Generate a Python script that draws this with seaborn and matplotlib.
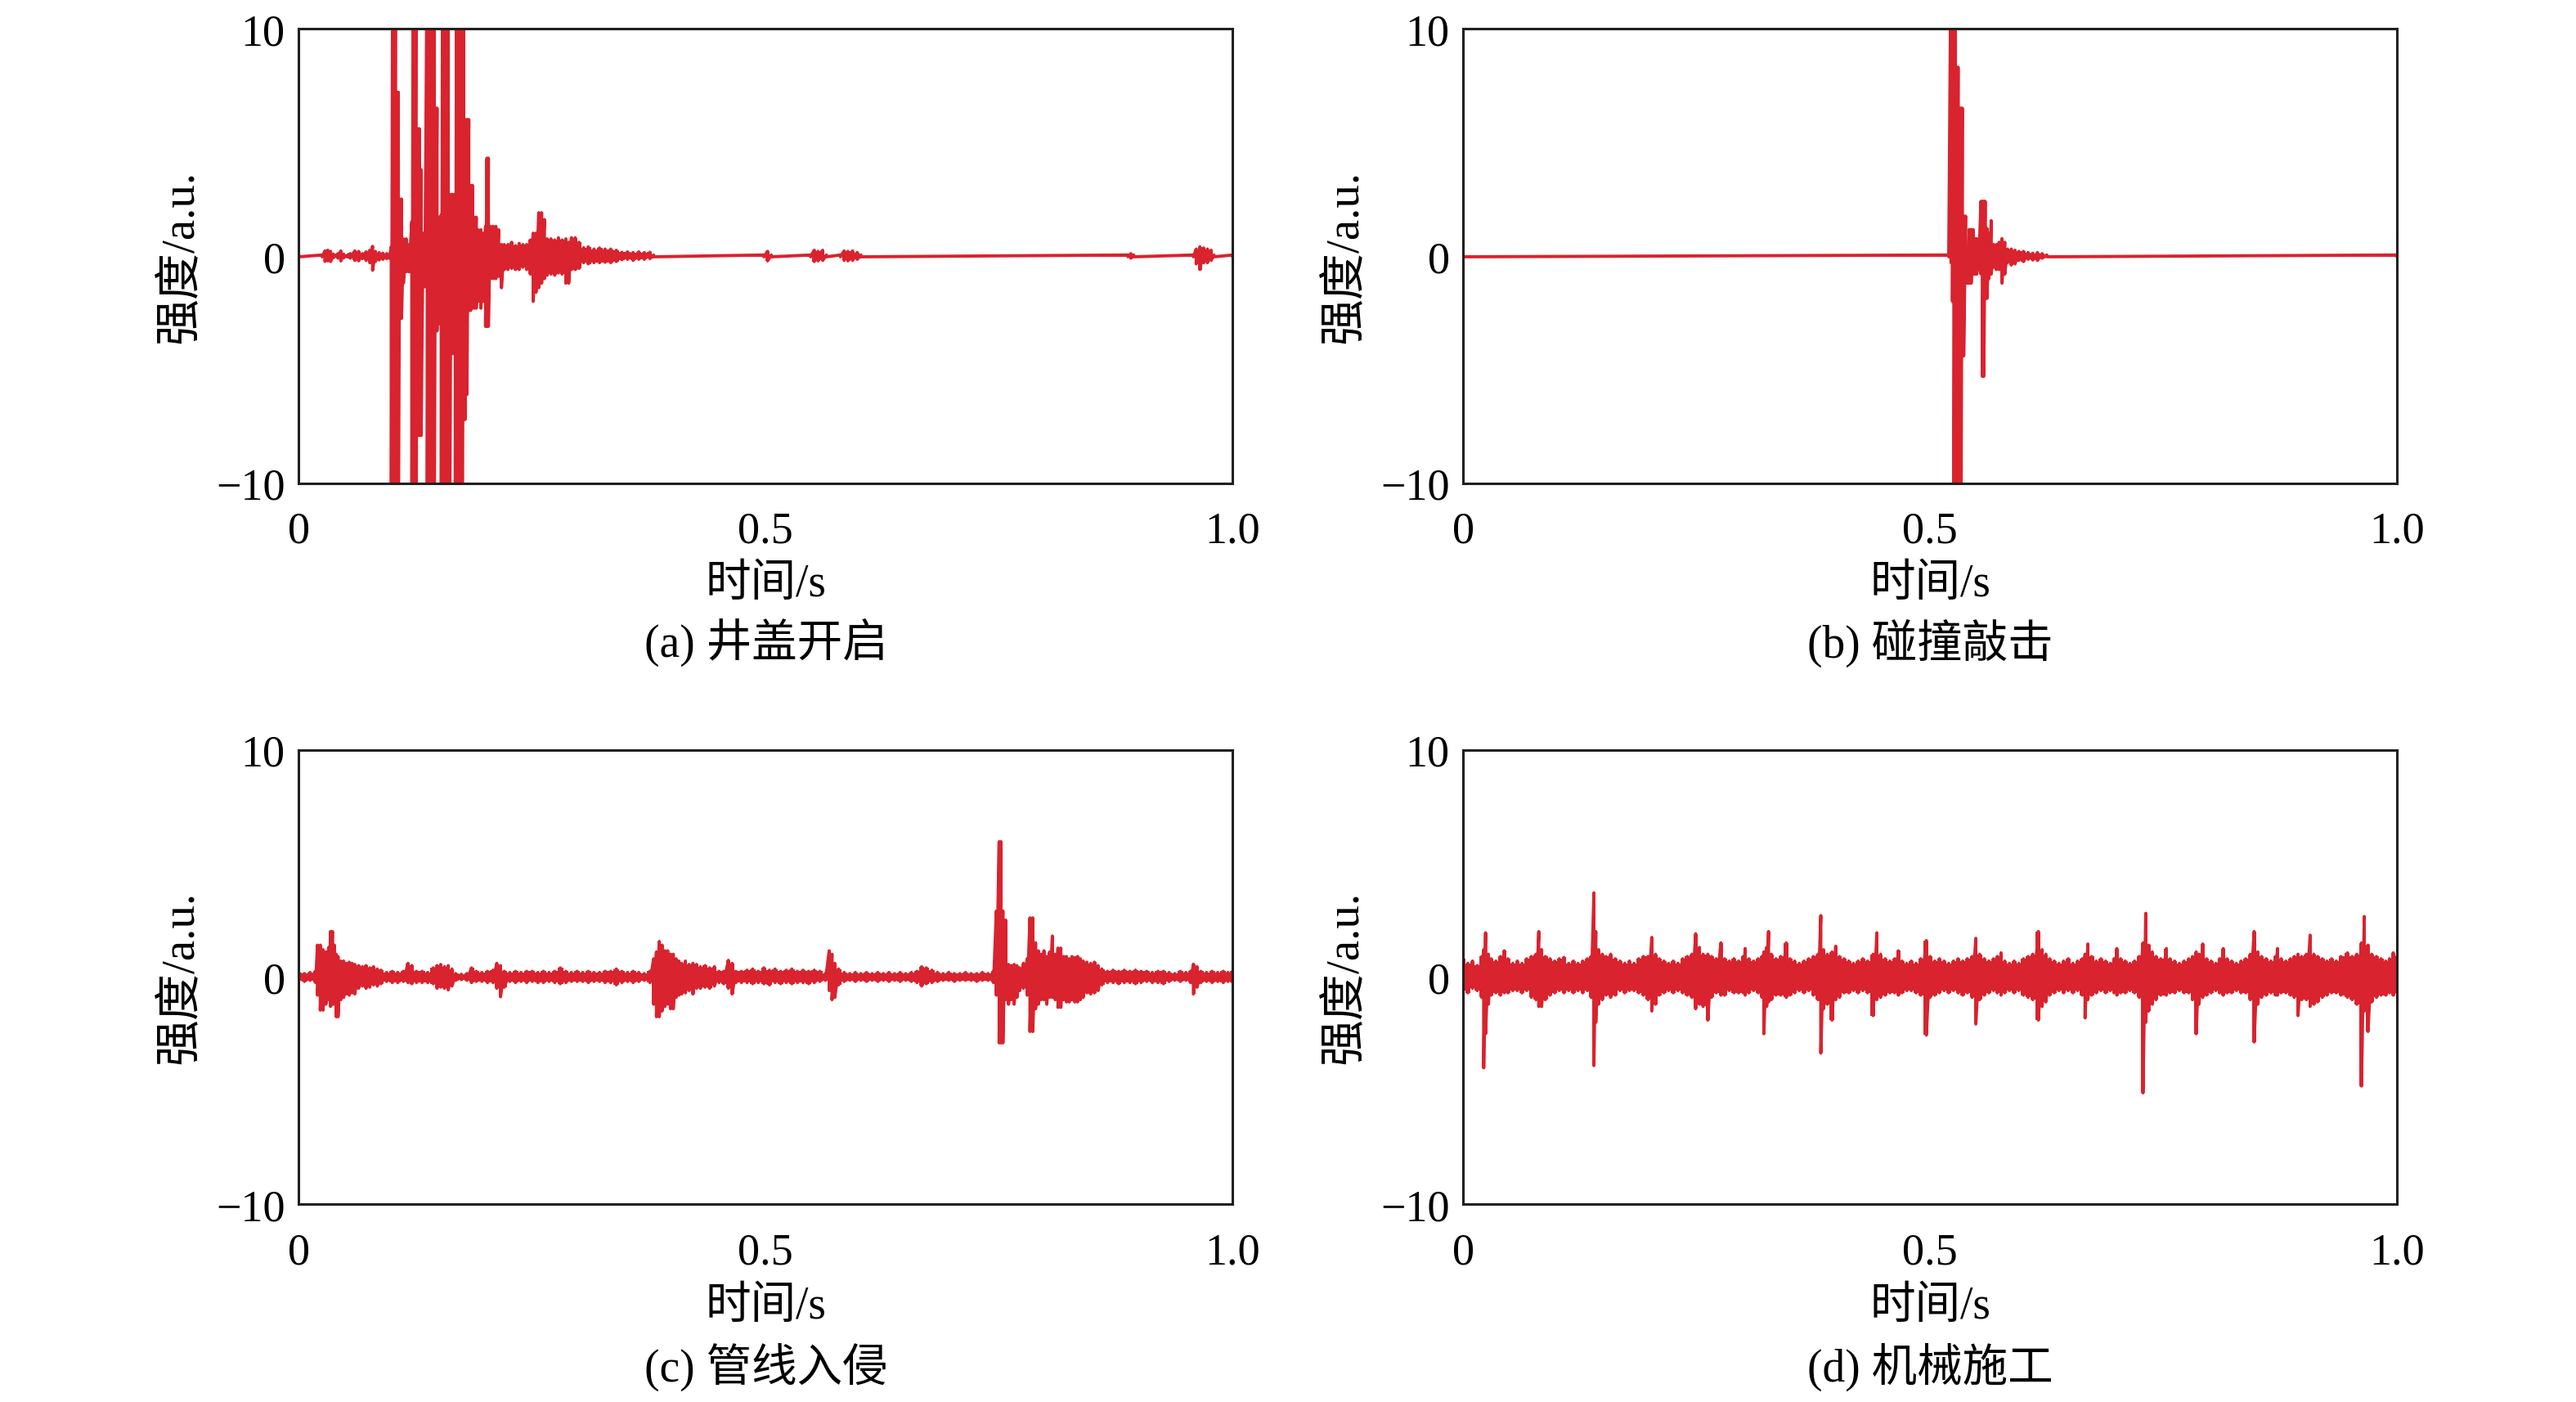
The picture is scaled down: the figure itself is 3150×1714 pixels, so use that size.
import numpy as np
import pandas as pd
import matplotlib
matplotlib.use("Agg")
import matplotlib.pyplot as plt
import seaborn as sns

# ---------------- data: envelope columns (time, upper, lower) ----------------
# (a) 井盖开启
t_a = [0.000, 0.025, 0.028, 0.031, 0.034, 0.037, 0.042, 0.045, 0.048, 0.055, 0.060, 0.064, 0.068, 0.072, 0.076, 0.079, 0.082, 0.086, 0.090, 0.094, 0.097,
       0.099, 0.1005, 0.102, 0.1035, 0.105, 0.1065, 0.108, 0.110, 0.112, 0.115, 0.118,
       0.121, 0.1225, 0.124, 0.1255, 0.127, 0.129, 0.131, 0.133, 0.135,
       0.1375, 0.139, 0.1405, 0.142, 0.1435, 0.145, 0.1465, 0.148, 0.1495, 0.151,
       0.1525, 0.154, 0.1555, 0.157, 0.1585, 0.160, 0.1615, 0.163, 0.1645, 0.166,
       0.1675, 0.169, 0.1705, 0.172, 0.1735, 0.175, 0.1765, 0.178, 0.180, 0.182,
       0.184, 0.186, 0.188, 0.190, 0.192, 0.195, 0.198, 0.200, 0.2015, 0.203, 0.205, 0.208, 0.211, 0.214, 0.217, 0.220,
       0.224, 0.228, 0.232, 0.236, 0.240, 0.244, 0.248, 0.251, 0.254, 0.257, 0.260, 0.263,
       0.266, 0.270, 0.274, 0.278, 0.282, 0.286, 0.289, 0.292, 0.296, 0.300,
       0.305, 0.310, 0.316, 0.322, 0.328, 0.334, 0.340, 0.346, 0.352, 0.358, 0.364, 0.370, 0.376, 0.380,
       0.498, 0.502, 0.506, 0.548, 0.552, 0.556, 0.561, 0.565, 0.580, 0.584, 0.588, 0.593, 0.598, 0.602,
       0.888, 0.891, 0.894, 0.958, 0.961, 0.965, 0.969, 0.973, 0.977, 0.980, 1.000]
hi_a = [0.04, 0.04, 0.22, 0.25, 0.20, 0.08, 0.10, 0.22, 0.08, 0.10, 0.22, 0.20, 0.10, 0.18, 0.25, 0.42, 0.20, 0.15, 0.12, 0.10, 0.08,
        0.4, 14, 14, 14, 7.2, 7.2, 2.5, 2.5, 0.75, 0.75, 0.5,
        1.5, 14, 14, 14, 5.6, 5.6, 3.8, 1.0, 1.0,
        14, 14, 14, 14, 14, 14, 6.5, 6.5, 1.7, 1.7,
        1.8, 14, 14, 14, 14, 14, 2.7, 2.7, 2.7, 2.7,
        2.7, 14, 14, 14, 14, 14, 14, 6.0, 6.0, 6.0,
        3.1, 3.1, 1.7, 1.7, 1.15, 1.15, 1.0, 1.3, 4.3, 4.3, 1.3, 1.3, 1.3, 1.15, 0.5, 0.5,
        0.5, 0.6, 0.45, 0.55, 0.5, 0.5, 0.7, 1.0, 1.0, 1.9, 1.9, 1.6,
        0.75, 0.75, 0.7, 0.8, 0.7, 0.75, 0.6, 0.8, 0.8, 0.6,
        0.36, 0.4, 0.3, 0.35, 0.3, 0.3, 0.25, 0.16, 0.18, 0.15, 0.18, 0.15, 0.16, 0.04,
        0.04, 0.2, 0.04, 0.04, 0.25, 0.2, 0.25, 0.04, 0.04, 0.22, 0.2, 0.22, 0.15, 0.04,
        0.04, 0.1, 0.04, 0.04, 0.3, 0.4, 0.35, 0.3, 0.25, 0.04, 0.04]
lo_a = [-0.04, -0.04, -0.24, -0.22, -0.25, -0.08, -0.10, -0.22, -0.08, -0.10, -0.20, -0.22, -0.12, -0.20, -0.30, -0.63, -0.25, -0.18, -0.15, -0.12, -0.10,
        -14, -14, -14, -14, -14, -14, -2.75, -2.75, -1.2, -0.7, -0.7,
        -14, -14, -14, -14, -7.9, -7.9, -7.9, -1.36, -1.36,
        -14, -14, -14, -14, -14, -14, -3.0, -3.3, -3.0, -2.8,
        -14, -14, -14, -14, -14, -14, -14, -4.3, -4.3, -4.3,
        -14, -14, -14, -14, -14, -14, -7.2, -7.2, -6.1, -2.4,
        -2.4, -2.3, -2.3, -2.3, -2.0, -2.3, -2.0, -3.1, -3.1, -3.1, -1.0, -1.0, -1.0, -0.9, -1.4, -0.6,
        -0.6, -0.55, -0.6, -0.6, -0.5, -0.6, -0.8, -2.0, -1.6, -1.4, -1.2, -1.0,
        -0.85, -0.8, -0.85, -0.75, -0.8, -1.2, -1.2, -0.6, -0.6, -0.55,
        -0.3, -0.35, -0.3, -0.3, -0.28, -0.3, -0.25, -0.17, -0.15, -0.2, -0.15, -0.15, -0.12, -0.04,
        -0.04, -0.22, -0.04, -0.04, -0.25, -0.22, -0.2, -0.04, -0.04, -0.2, -0.22, -0.2, -0.15, -0.04,
        -0.04, -0.1, -0.04, -0.04, -0.35, -0.6, -0.3, -0.3, -0.2, -0.04, -0.04]

# (b) 碰撞敲击
t_b = [0.000, 0.520,
       0.5225, 0.524, 0.5255, 0.527, 0.5285, 0.530, 0.5315, 0.533, 0.5345,
       0.536, 0.538, 0.540, 0.542, 0.544, 0.546, 0.548, 0.550, 0.552,
       0.5545, 0.556, 0.5575, 0.559, 0.561, 0.563, 0.5655,
       0.568, 0.571, 0.574, 0.577, 0.580, 0.583, 0.587, 0.591, 0.595,
       0.600, 0.605, 0.610, 0.615, 0.620, 0.625, 1.000]
hi_b = [0.04, 0.04,
        14, 14, 14, 14, 8.3, 8.3, 6.5, 6.5, 6.5,
        1.75, 1.75, 0.37, 1.16, 1.16, 1.16, 0.76, 0.76, 0.5,
        2.4, 2.4, 2.4, 2.4, 1.2, 1.0, 1.55,
        0.5, 0.5, 0.6, 0.76, 0.6, 0.3, 0.3, 0.25, 0.2,
        0.2, 0.15, 0.12, 0.15, 0.1, 0.04, 0.04]
lo_b = [-0.04, -0.04,
        -0.3, -2, -14, -14, -14, -14, -14, -14, -4.4,
        -4.4, -1.2, -1.2, -1.2, -1.2, -0.8, -0.8, -0.8, -0.6,
        -0.8, -5.3, -5.3, -1.87, -1.87, -1.0, -0.8,
        -0.5, -0.6, -0.6, -1.2, -0.8, -0.3, -0.4, -0.35, -0.2,
        -0.25, -0.15, -0.18, -0.2, -0.1, -0.04, -0.04]

# (c) 管线入侵
t_c = [0.000, 0.006, 0.012, 0.018, 0.020, 0.023, 0.026, 0.029, 0.032, 0.034,
       0.036, 0.038, 0.040, 0.042, 0.045, 0.048, 0.051, 0.054, 0.057, 0.060,
       0.064, 0.068, 0.072, 0.076, 0.080, 0.084, 0.088, 0.094, 0.100, 0.106,
       0.112, 0.117, 0.121, 0.126, 0.132, 0.138, 0.144, 0.148, 0.152, 0.156,
       0.160, 0.164, 0.168, 0.174, 0.180, 0.185, 0.190, 0.196, 0.202, 0.208,
       0.212, 0.216, 0.220, 0.226, 0.232, 0.238, 0.244, 0.250, 0.256, 0.262,
       0.268, 0.274, 0.280, 0.286, 0.292, 0.298, 0.304, 0.310, 0.316, 0.322,
       0.328, 0.334, 0.340, 0.346, 0.352, 0.358, 0.364, 0.370, 0.376, 0.380,
       0.383, 0.386, 0.389, 0.392, 0.395, 0.398, 0.401, 0.404, 0.407, 0.410,
       0.414, 0.418, 0.422, 0.426, 0.430, 0.435, 0.440, 0.445, 0.450, 0.455,
       0.460, 0.464, 0.468, 0.474, 0.480, 0.486, 0.492, 0.498, 0.504, 0.510,
       0.516, 0.522, 0.528, 0.534, 0.540, 0.546, 0.552, 0.558, 0.564, 0.568,
       0.571, 0.574, 0.578, 0.584, 0.590, 0.596, 0.602, 0.608, 0.614, 0.620,
       0.626, 0.632, 0.638, 0.644, 0.650, 0.656, 0.662, 0.667, 0.672, 0.678,
       0.684, 0.690, 0.696, 0.702, 0.708, 0.714, 0.720, 0.726, 0.732, 0.738,
       0.744, 0.747, 0.750, 0.752, 0.754, 0.757, 0.760, 0.763, 0.766, 0.769,
       0.772, 0.776, 0.780, 0.783, 0.786, 0.789, 0.792, 0.795, 0.798, 0.801,
       0.804, 0.807, 0.810, 0.813, 0.816, 0.819, 0.822, 0.825, 0.828, 0.831,
       0.834, 0.837, 0.840, 0.844, 0.848, 0.852, 0.856, 0.860, 0.866, 0.872,
       0.878, 0.884, 0.890, 0.896, 0.902, 0.908, 0.914, 0.920, 0.926, 0.932,
       0.938, 0.944, 0.950, 0.955, 0.958, 0.962, 0.966, 0.972, 0.978, 0.984,
       0.990, 0.995, 1.000]
hi_c = [0.2, 0.15, 0.2, 0.25, 1.4, 1.4, 1.2, 1.1, 1.3, 2.0,
        2.0, 1.4, 1.0, 0.9, 0.7, 0.7, 0.6, 0.65, 0.6, 0.55,
        0.5, 0.45, 0.5, 0.4, 0.45, 0.35, 0.3, 0.2, 0.25, 0.2,
        0.25, 0.6, 0.5, 0.25, 0.25, 0.2, 0.4, 0.5, 0.55, 0.45,
        0.5, 0.35, 0.15, 0.12, 0.15, 0.4, 0.25, 0.2, 0.25, 0.3,
        0.6, 0.5, 0.25, 0.2, 0.25, 0.2, 0.25, 0.25, 0.2, 0.25,
        0.2, 0.25, 0.4, 0.25, 0.2, 0.25, 0.2, 0.25, 0.2, 0.2,
        0.25, 0.25, 0.35, 0.25, 0.2, 0.25, 0.2, 0.15, 0.25, 0.8,
        1.1, 1.56, 1.4, 1.15, 1.15, 1.0, 1.0, 0.8, 0.7, 0.6,
        0.7, 0.55, 0.6, 0.55, 0.45, 0.5, 0.4, 0.45, 0.25, 0.25,
        0.73, 0.6, 0.25, 0.25, 0.3, 0.35, 0.25, 0.4, 0.3, 0.35,
        0.25, 0.3, 0.35, 0.25, 0.3, 0.25, 0.3, 0.25, 0.15, 1.15,
        1.0, 0.6, 0.35, 0.2, 0.15, 0.2, 0.15, 0.2, 0.15, 0.2,
        0.15, 0.2, 0.15, 0.2, 0.15, 0.2, 0.25, 0.45, 0.4, 0.3,
        0.2, 0.15, 0.2, 0.15, 0.15, 0.2, 0.15, 0.15, 0.2, 0.15,
        0.25, 2.9, 5.95, 5.95, 2.9, 2.5, 0.55, 0.5, 0.55, 0.5,
        0.4, 0.6, 0.8, 2.6, 2.6, 1.5, 1.15, 1.0, 1.15, 0.9,
        1.1, 1.8, 1.0, 1.27, 1.27, 0.9, 0.9, 0.8, 0.9, 0.85,
        0.9, 0.8, 0.7, 0.65, 0.6, 0.65, 0.5, 0.35, 0.25, 0.3,
        0.25, 0.3, 0.25, 0.3, 0.25, 0.25, 0.2, 0.25, 0.25, 0.2,
        0.15, 0.25, 0.2, 0.25, 0.56, 0.45, 0.25, 0.2, 0.25, 0.2,
        0.25, 0.2, 0.25]
lo_c = [-0.15, -0.2, -0.15, -0.25, -0.8, -1.46, -1.46, -1.2, -1.0, -1.3,
        -1.2, -1.2, -1.75, -1.75, -1.0, -0.9, -0.75, -0.8, -0.7, -0.75,
        -0.5, -0.4, -0.5, -0.45, -0.35, -0.4, -0.3, -0.2, -0.25, -0.25,
        -0.2, -0.25, -0.3, -0.25, -0.25, -0.25, -0.3, -0.5, -0.45, -0.5,
        -0.57, -0.4, -0.15, -0.12, -0.15, -0.25, -0.2, -0.2, -0.25, -0.25,
        -0.5, -0.87, -0.45, -0.2, -0.25, -0.2, -0.25, -0.2, -0.25, -0.25,
        -0.2, -0.25, -0.3, -0.25, -0.2, -0.2, -0.2, -0.25, -0.2, -0.2,
        -0.25, -0.25, -0.35, -0.25, -0.2, -0.25, -0.2, -0.15, -0.25, -1.2,
        -1.75, -1.75, -1.5, -1.3, -1.2, -1.4, -1.4, -0.9, -0.8, -0.75,
        -0.7, -0.6, -0.75, -0.5, -0.5, -0.45, -0.5, -0.4, -0.25, -0.3,
        -0.5, -0.75, -0.25, -0.25, -0.25, -0.3, -0.25, -0.3, -0.35, -0.25,
        -0.3, -0.25, -0.3, -0.25, -0.25, -0.3, -0.25, -0.2, -0.15, -0.6,
        -1.0, -0.9, -0.35, -0.2, -0.15, -0.2, -0.15, -0.2, -0.15, -0.2,
        -0.15, -0.2, -0.15, -0.2, -0.15, -0.2, -0.25, -0.4, -0.3, -0.25,
        -0.2, -0.15, -0.15, -0.2, -0.15, -0.15, -0.15, -0.2, -0.15, -0.15,
        -0.25, -0.8, -2.9, -2.9, -2.9, -1.0, -1.2, -1.0, -1.2, -0.9,
        -0.6, -0.5, -0.8, -2.4, -2.4, -1.4, -1.2, -1.0, -1.0, -1.2,
        -0.9, -0.9, -1.0, -1.34, -1.34, -1.0, -1.1, -1.1, -1.0, -1.1,
        -1.1, -1.0, -0.9, -0.7, -0.75, -0.7, -0.6, -0.35, -0.25, -0.25,
        -0.3, -0.25, -0.25, -0.3, -0.25, -0.2, -0.25, -0.25, -0.3, -0.2,
        -0.15, -0.2, -0.15, -0.25, -0.75, -0.45, -0.25, -0.2, -0.25, -0.2,
        -0.25, -0.2, -0.25]

# (d) 机械施工
t_d = [0.000, 0.005, 0.010, 0.015, 0.020, 0.022, 0.024, 0.027, 0.030, 0.035,
       0.040, 0.044, 0.048, 0.053, 0.058, 0.063, 0.068, 0.073, 0.078, 0.081,
       0.084, 0.088, 0.093, 0.098, 0.103, 0.108, 0.113, 0.118, 0.123, 0.128,
       0.133, 0.137, 0.140, 0.142, 0.145, 0.149, 0.153, 0.158, 0.163, 0.168,
       0.173, 0.178, 0.183, 0.188, 0.193, 0.198, 0.202, 0.206, 0.210, 0.215,
       0.220, 0.225, 0.230, 0.235, 0.240, 0.245, 0.249, 0.253, 0.257, 0.262,
       0.266, 0.271, 0.276, 0.280, 0.285, 0.290, 0.295, 0.300, 0.302, 0.306,
       0.311, 0.316, 0.320, 0.322, 0.325, 0.327, 0.330, 0.335, 0.340, 0.346,
       0.350, 0.355, 0.360, 0.365, 0.370, 0.375, 0.380, 0.383, 0.386, 0.390,
       0.395, 0.399, 0.403, 0.408, 0.413, 0.418, 0.423, 0.428, 0.433, 0.439,
       0.443, 0.447, 0.452, 0.457, 0.462, 0.466, 0.470, 0.475, 0.480, 0.485,
       0.490, 0.496, 0.500, 0.505, 0.510, 0.515, 0.520, 0.525, 0.530, 0.535,
       0.540, 0.545, 0.549, 0.553, 0.558, 0.563, 0.568, 0.572, 0.576, 0.580,
       0.585, 0.590, 0.595, 0.600, 0.605, 0.610, 0.616, 0.620, 0.624, 0.628,
       0.633, 0.638, 0.643, 0.648, 0.653, 0.658, 0.663, 0.666, 0.669, 0.673,
       0.678, 0.683, 0.688, 0.693, 0.697, 0.700, 0.704, 0.709, 0.714, 0.719,
       0.724, 0.728, 0.731, 0.734, 0.738, 0.742, 0.747, 0.753, 0.757, 0.762,
       0.767, 0.772, 0.777, 0.781, 0.785, 0.788, 0.792, 0.796, 0.801, 0.806,
       0.810, 0.814, 0.818, 0.823, 0.828, 0.833, 0.838, 0.843, 0.847, 0.851,
       0.855, 0.860, 0.865, 0.870, 0.872, 0.876, 0.881, 0.886, 0.890, 0.894,
       0.898, 0.903, 0.907, 0.911, 0.915, 0.920, 0.925, 0.930, 0.935, 0.940,
       0.947, 0.952, 0.957, 0.962, 0.965, 0.969, 0.973, 0.978, 0.983, 0.988,
       0.992, 0.996, 1.000]
hi_d = [0.8, 0.6, 0.7, 0.5, 0.9, 1.2, 1.94, 1.0, 0.8, 0.7,
        0.9, 1.15, 0.8, 0.6, 0.7, 0.6, 0.8, 0.9, 1.0, 2.0,
        1.2, 0.9, 0.8, 0.7, 0.8, 0.86, 0.6, 0.7, 0.6, 0.7,
        0.8, 0.9, 3.7, 2.0, 1.2, 1.0, 0.9, 1.0, 0.8, 0.7,
        0.6, 0.7, 0.6, 0.8, 0.9, 0.9, 1.74, 1.0, 0.8, 0.7,
        0.6, 0.7, 0.6, 0.8, 0.9, 1.0, 1.9, 1.3, 1.0, 1.0,
        0.9, 0.8, 1.5, 0.8, 0.7, 0.8, 0.7, 0.9, 1.25, 0.8,
        0.7, 0.8, 0.9, 1.1, 1.3, 2.0, 1.0, 0.8, 0.9, 1.5,
        0.8, 0.7, 0.6, 0.7, 0.8, 0.9, 1.0, 2.7, 1.2, 1.0,
        1.1, 1.35, 0.9, 0.8, 0.7, 0.6, 0.7, 0.8, 0.7, 1.0,
        1.94, 1.0, 0.8, 0.7, 0.8, 1.15, 0.7, 0.6, 0.7, 0.6,
        0.8, 1.6, 0.9, 0.7, 0.8, 0.7, 0.6, 0.7, 0.8, 0.7,
        0.8, 0.9, 1.7, 1.0, 0.8, 0.7, 0.8, 0.9, 1.06, 0.7,
        0.6, 0.7, 0.6, 0.8, 0.9, 1.0, 2.0, 1.2, 1.0, 0.8,
        0.7, 0.6, 0.7, 0.8, 0.6, 0.7, 0.8, 1.0, 1.45, 0.9,
        0.7, 0.8, 0.7, 0.6, 0.8, 1.25, 0.8, 0.7, 0.6, 0.7,
        0.9, 1.5, 2.8, 1.4, 1.1, 0.9, 0.8, 1.25, 0.8, 0.7,
        0.6, 0.7, 0.8, 0.9, 1.1, 1.0, 1.45, 0.8, 0.7, 0.6,
        0.8, 1.25, 0.8, 0.7, 0.6, 0.7, 0.8, 1.0, 2.0, 1.1,
        0.9, 0.8, 0.7, 0.9, 1.25, 0.8, 0.7, 0.8, 0.9, 1.0,
        0.9, 1.0, 1.84, 1.0, 0.9, 0.8, 0.7, 0.8, 0.7, 0.9,
        1.06, 0.9, 1.0, 1.5, 2.66, 1.4, 1.0, 0.9, 0.8, 0.7,
        0.8, 1.06, 0.9]
lo_d = [-0.6, -0.7, -0.5, -0.6, -0.9, -4.0, -2.5, -1.2, -0.8, -0.7,
        -0.8, -0.7, -0.7, -0.6, -0.6, -0.7, -0.6, -0.9, -1.0, -1.3,
        -1.3, -1.0, -0.8, -0.7, -0.6, -0.7, -0.6, -0.7, -0.6, -0.7,
        -0.6, -0.9, -3.9, -2.0, -1.2, -1.0, -0.8, -0.9, -0.8, -0.6,
        -0.7, -0.6, -0.6, -0.7, -0.8, -1.0, -1.5, -1.2, -0.8, -0.7,
        -0.6, -0.7, -0.6, -0.7, -0.8, -0.9, -1.4, -1.2, -1.3, -1.9,
        -0.9, -0.7, -0.8, -0.8, -0.6, -0.7, -0.7, -0.7, -0.8, -0.7,
        -0.6, -0.7, -0.9, -2.5, -1.3, -1.1, -1.0, -0.8, -0.8, -0.9,
        -0.8, -0.7, -0.6, -0.7, -0.6, -0.8, -1.0, -3.35, -1.4, -1.2,
        -1.9, -1.0, -0.9, -0.7, -0.7, -0.6, -0.7, -0.6, -0.7, -1.7,
        -1.0, -0.9, -0.8, -0.7, -0.7, -0.8, -0.7, -0.6, -0.6, -0.7,
        -0.8, -2.56, -0.9, -0.8, -0.7, -0.6, -0.7, -0.6, -0.7, -0.8,
        -0.7, -0.9, -2.07, -1.0, -0.8, -0.7, -0.6, -0.7, -0.8, -0.7,
        -0.6, -0.7, -0.6, -0.8, -0.9, -1.0, -1.9, -1.3, -1.1, -0.8,
        -0.7, -0.6, -0.7, -0.6, -0.7, -0.6, -0.8, -1.8, -1.0, -0.8,
        -0.7, -0.6, -0.7, -0.6, -0.7, -0.8, -0.7, -0.7, -0.6, -0.7,
        -0.9, -5.1, -2.0, -1.5, -1.2, -1.0, -0.8, -0.8, -0.7, -0.7,
        -0.6, -0.7, -0.7, -1.0, -2.5, -1.2, -0.9, -0.8, -0.7, -0.6,
        -0.7, -0.8, -0.7, -0.7, -0.6, -0.7, -0.7, -1.0, -2.86, -1.2,
        -0.9, -0.8, -0.7, -0.8, -0.8, -0.7, -0.7, -0.8, -0.9, -1.7,
        -1.0, -1.0, -1.3, -1.2, -1.1, -0.9, -0.8, -0.7, -0.7, -0.8,
        -0.9, -1.0, -1.2, -4.8, -1.5, -2.4, -1.1, -0.9, -0.8, -0.8,
        -0.7, -0.8, -0.7]

captions = ["(a) 井盖开启", "(b) 碰撞敲击", "(c) 管线入侵", "(d) 机械施工"]
x_ticks = [0, 0.5, 1.0]
x_tick_labels = ["0", "0.5", "1.0"]
y_ticks = [-10, 0, 10]
y_tick_labels = ["\u221210", "0", "10"]
x_label = "时间/s"
y_label = "强度/a.u."

# ---------------- style ----------------
sns.set_theme(style="white")
plt.rcParams["font.family"] = ["Liberation Serif", "Noto Sans CJK SC", "DejaVu Sans"]
RED = "#d9232e"
INK = "#231f20"

fig = plt.figure(figsize=(31.5, 17.15), dpi=100)
positions = [
    [0.116, 0.655, 0.3625, 0.324],
    [0.568, 0.655, 0.3625, 0.324],
    [0.116, 0.141, 0.3625, 0.324],
    [0.568, 0.141, 0.3625, 0.324],
]
label_y = [(-0.222, -0.35), (-0.222, -0.35), (-0.225, -0.356), (-0.225, -0.356)]
series = [(t_a, hi_a, lo_a), (t_b, hi_b, lo_b), (t_c, hi_c, lo_c), (t_d, hi_d, lo_d)]

for pos, (t, hi, lo), cap, (ylx, ylc) in zip(positions, series, captions, label_y):
    ax = fig.add_axes(pos)
    t_arr = np.asarray(t, dtype=float)
    hi_arr = np.asarray(hi, dtype=float)
    lo_arr = np.asarray(lo, dtype=float)
    # solid envelope body, then the waveform trace on top
    ax.fill_between(t_arr, lo_arr, hi_arr, step="mid", color=RED, lw=0)
    df = pd.DataFrame({"t": np.repeat(t_arr, 2),
                       "v": np.column_stack([hi_arr, lo_arr]).ravel()})
    sns.lineplot(data=df, x="t", y="v", sort=False, estimator=None,
                 color=RED, lw=2.8, ax=ax, legend=False)
    ax.set_xlim(0, 1)
    ax.set_ylim(-10, 10)
    ax.set_xticks(x_ticks)
    ax.set_xticklabels(x_tick_labels)
    ax.set_yticks(y_ticks)
    ax.set_yticklabels(y_tick_labels)
    ax.set_xlabel("")
    ax.set_ylabel("")
    ax.tick_params(axis="both", direction="in", length=10, width=1.8,
                   labelsize=39, colors=INK, labelcolor="black")
    ax.tick_params(axis="x", pad=24)
    ax.tick_params(axis="y", pad=12)
    for sp in ax.spines.values():
        sp.set_linewidth(2.2)
        sp.set_color(INK)
        sp.set_visible(True)
    ax.text(0.5, ylx, x_label, transform=ax.transAxes, ha="center", va="center",
            fontsize=40, color="black")
    ax.text(0.5, ylc, cap, transform=ax.transAxes, ha="center", va="center",
            fontsize=40, color="black")
    ax.text(-0.126, 0.5, y_label, transform=ax.transAxes, ha="center", va="center",
            rotation=90, fontsize=41, color="black")

fig.savefig("out.png", dpi=100)
